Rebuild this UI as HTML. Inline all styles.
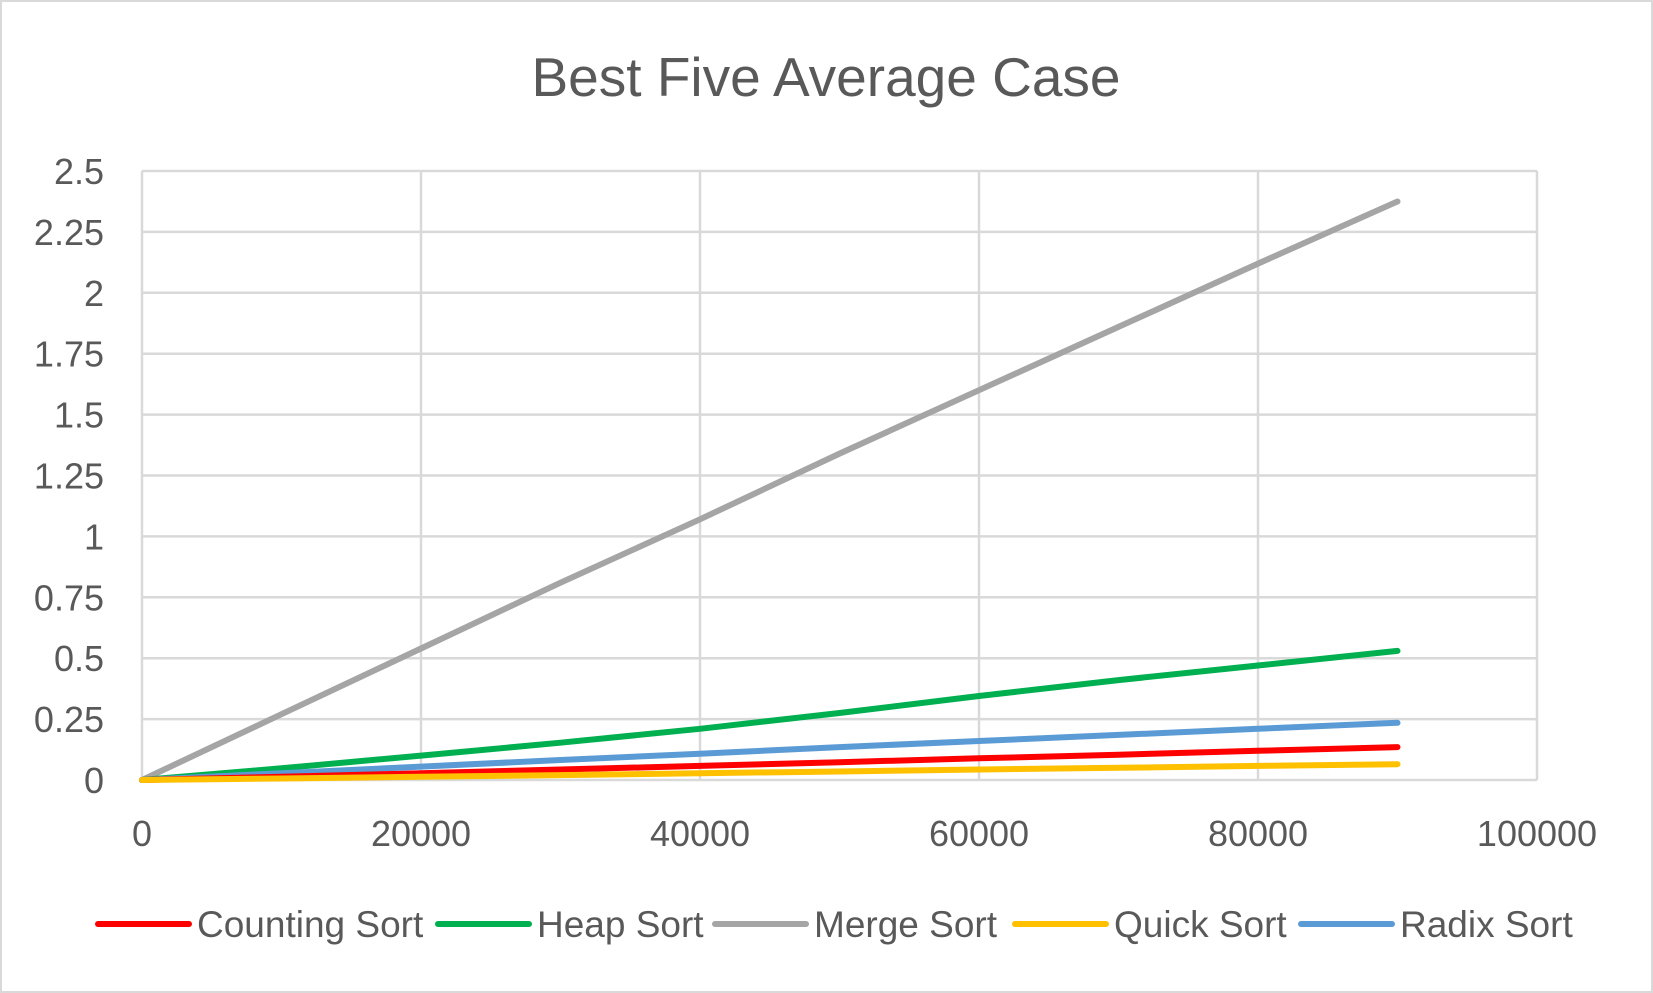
<!DOCTYPE html>
<html><head><meta charset="utf-8"><style>
html,body{margin:0;padding:0;background:#fff}
svg{display:block;font-family:"Liberation Sans","DejaVu Sans",sans-serif}
</style></head><body>
<svg id="chart" width="1653" height="993" viewBox="0 0 1653 993">
<rect x="1" y="1" width="1651" height="991" fill="#fff" stroke="#d9d9d9" stroke-width="2"/>
<text x="826" y="96" text-anchor="middle" font-size="55" fill="#595959">Best Five Average Case</text>
<g id="grid"></g><g id="series"></g><g id="axes"></g><g id="legend"></g>
</svg>
<script>
const xTicks=[0,20000,40000,60000,80000,100000];
const yTicks=[0,0.25,0.5,0.75,1,1.25,1.5,1.75,2,2.25,2.5];
const yTickLabels=["0","0.25","0.5","0.75","1","1.25","1.5","1.75","2","2.25","2.5"];
const xValues=[0,10000,20000,30000,40000,50000,60000,70000,80000,90000];
const countingSort=[0,0.013,0.028,0.043,0.058,0.073,0.089,0.104,0.12,0.135];
const heapSort=[0,0.048,0.1,0.153,0.21,0.275,0.345,0.41,0.47,0.53];
const mergeSort=[0,0.27,0.54,0.81,1.07,1.34,1.6,1.86,2.12,2.375];
const quickSort=[0,0.006,0.013,0.02,0.028,0.035,0.043,0.05,0.058,0.065];
const radixSort=[0,0.028,0.055,0.082,0.108,0.135,0.16,0.185,0.21,0.235];
const seriesNames=["Counting Sort","Heap Sort","Merge Sort","Quick Sort","Radix Sort"];
const seriesData=[countingSort,heapSort,mergeSort,quickSort,radixSort];
const colors=["#ff0000","#00b050","#a5a5a5","#ffc000","#5b9bd5"];
const L=142,R=1537,T=171,B=780;
const xs=v=>L+(v-0)/(100000)*(R-L);
const ys=v=>B-v/2.5*(B-T);
const NS="http://www.w3.org/2000/svg";
function mk(tag,attrs,parent){const e=document.createElementNS(NS,tag);for(const k in attrs)e.setAttribute(k,attrs[k]);parent.appendChild(e);return e;}
const grid=document.getElementById('grid'),axes=document.getElementById('axes'),ser=document.getElementById('series'),leg=document.getElementById('legend');
yTicks.forEach((t,i)=>{
 const l=mk('line',{x1:L,x2:R,y1:ys(t),y2:ys(t),stroke:'#d9d9d9','stroke-width':2.5},grid);
 
 
 const tx=mk('text',{x:L-38,y:ys(t)+13,'text-anchor':'end','font-size':36,fill:'#595959'},axes);
 tx.textContent=yTickLabels[i];
 
 
});
xTicks.forEach(t=>{
 const l=mk('line',{x1:xs(t),x2:xs(t),y1:T,y2:B,stroke:'#d9d9d9','stroke-width':2.5},grid);
 
 
 const tx=mk('text',{x:xs(t),y:846,'text-anchor':'middle','font-size':36,fill:'#595959'},axes);
 tx.textContent=String(t);
 
 
});
const draw=[2,1,4,0,3];
draw.forEach(i=>{
 const d=seriesData[i].map((v,j)=>(j?'L':'M')+xs(xValues[j]).toFixed(1)+','+ys(v).toFixed(1)).join(' ');
 const p=mk('path',{d:d,fill:'none',stroke:colors[i],'stroke-width':6,'stroke-linecap':'round','stroke-linejoin':'round'},ser);
 
 
});
const legX=[98,438,715,1015,1301];
seriesNames.forEach((n,i)=>{
 const g=mk('g',{},leg);
 
 
 mk('line',{x1:legX[i],x2:legX[i]+91,y1:924,y2:924,stroke:colors[i],'stroke-width':6,'stroke-linecap':'round'},g);
 const t=mk('text',{x:legX[i]+99,y:937,'font-size':37,fill:'#595959'},g);
 t.textContent=n;
});
</script>
</body></html>
